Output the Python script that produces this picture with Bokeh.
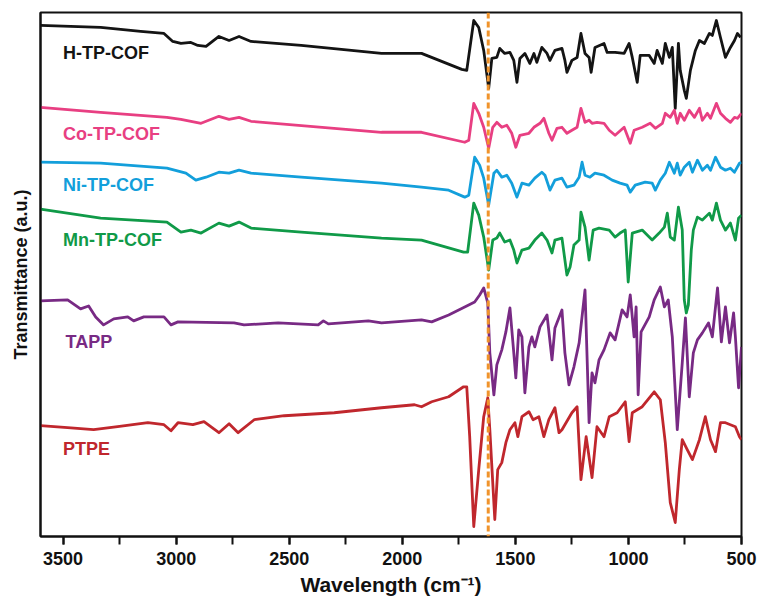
from bokeh.plotting import figure
from bokeh.models import Range1d, SingleIntervalTicker, FixedTicker, Span
from bokeh.core.properties import value
from bokeh.embed import file_html
from bokeh.resources import INLINE

# (wavenumber cm-1, transmittance a.u. with vertical offsets already included)
H_TP_COF = [(3600, 512), (3334, 510), (3157, 506), (3054, 504), (3015, 496), (2979, 494), (2935, 495),
            (2904, 492), (2868, 491), (2811, 501), (2766, 497), (2722, 501), (2669, 496), (2447, 492),
            (2092, 484), (1915, 484), (1737, 468), (1715, 467), (1684, 517), (1662, 510), (1640, 487),
            (1618, 449), (1604, 479), (1582, 480), (1569, 489), (1547, 484), (1524, 485), (1507, 477),
            (1493, 455), (1480, 479), (1458, 484), (1436, 474), (1418, 484), (1405, 475), (1383, 490),
            (1360, 484), (1347, 477), (1325, 487), (1294, 489), (1281, 477), (1272, 465), (1250, 477),
            (1227, 480), (1210, 504), (1192, 484), (1174, 480), (1165, 465), (1148, 490), (1108, 494),
            (1094, 485), (1059, 485), (1019, 484), (997, 494), (983, 480), (961, 455), (948, 482),
            (908, 482), (886, 474), (873, 487), (850, 474), (837, 494), (819, 480), (806, 490),
            (793, 429), (779, 494), (771, 467), (753, 447), (744, 439), (726, 467), (704, 487),
            (686, 497), (664, 494), (642, 504), (629, 502), (611, 517), (593, 500), (571, 480),
            (549, 490), (531, 497), (518, 504), (504, 500)]

CO_TP_COF = [(3600, 430), (3334, 425), (3041, 420), (2979, 418), (2890, 414), (2811, 421), (2766, 418),
             (2722, 420), (2669, 416), (2092, 405), (1915, 405), (1724, 395), (1706, 397), (1684, 434),
             (1662, 424), (1640, 410), (1618, 389), (1600, 410), (1582, 415), (1560, 410), (1538, 412),
             (1516, 404), (1498, 390), (1480, 402), (1440, 404), (1418, 410), (1391, 414), (1374, 419),
             (1352, 404), (1338, 397), (1316, 409), (1294, 410), (1272, 404), (1250, 407), (1227, 410),
             (1210, 429), (1192, 415), (1174, 417), (1161, 414), (1139, 415), (1108, 414), (1085, 407),
             (1059, 402), (1019, 410), (992, 394), (975, 407), (939, 410), (904, 414), (881, 409),
             (850, 414), (837, 424), (815, 420), (797, 427), (784, 414), (771, 424), (753, 417),
             (731, 427), (708, 420), (686, 429), (673, 417), (651, 424), (637, 419), (611, 434),
             (593, 424), (571, 419), (549, 415), (531, 420), (518, 419), (500, 424)]

NI_TP_COF = [(3600, 375), (3334, 374), (3041, 369), (2957, 364), (2913, 357), (2868, 360), (2811, 365),
             (2766, 364), (2722, 367), (2669, 364), (2447, 360), (2092, 354), (2003, 352), (1915, 350),
             (1795, 347), (1724, 340), (1706, 342), (1680, 380), (1658, 372), (1640, 359), (1618, 332),
             (1595, 364), (1582, 367), (1560, 360), (1538, 362), (1516, 354), (1493, 340), (1471, 354),
             (1440, 352), (1414, 359), (1383, 365), (1369, 362), (1347, 347), (1325, 357), (1294, 359),
             (1272, 350), (1241, 352), (1218, 360), (1205, 375), (1192, 362), (1170, 360), (1148, 364),
             (1108, 362), (1072, 357), (1037, 354), (1006, 352), (992, 345), (970, 352), (926, 355),
             (895, 354), (881, 347), (859, 357), (837, 364), (819, 375), (797, 364), (784, 374),
             (771, 362), (753, 370), (731, 375), (717, 365), (695, 377), (673, 367), (651, 372),
             (637, 367), (615, 380), (593, 370), (571, 367), (549, 369), (531, 365), (509, 374),
             (500, 375)]

MN_TP_COF = [(3600, 328), (3334, 319), (3041, 315), (2979, 305), (2935, 307), (2890, 304), (2811, 314),
             (2766, 311), (2722, 315), (2669, 309), (2447, 305), (2092, 299), (1915, 297), (1729, 285),
             (1711, 285), (1684, 334), (1662, 322), (1640, 300), (1618, 267), (1600, 297), (1582, 299),
             (1569, 304), (1547, 295), (1524, 297), (1507, 287), (1493, 274), (1471, 287), (1440, 289),
             (1414, 297), (1383, 304), (1360, 297), (1338, 284), (1325, 297), (1294, 299), (1272, 262),
             (1258, 270), (1241, 292), (1218, 297), (1210, 325), (1192, 310), (1174, 277), (1156, 307),
             (1130, 309), (1085, 307), (1059, 300), (1037, 304), (1014, 307), (1001, 255), (983, 304),
             (939, 307), (895, 297), (864, 304), (841, 310), (828, 324), (815, 300), (797, 297),
             (779, 330), (762, 307), (753, 237), (744, 224), (735, 232), (722, 287), (713, 307),
             (695, 320), (673, 317), (642, 324), (629, 317), (611, 334), (593, 317), (571, 307),
             (549, 314), (527, 297), (513, 319), (500, 322)]

TAPP = [(3600, 236), (3480, 237), (3423, 228), (3387, 231), (3356, 220), (3321, 212), (3276, 218),
        (3214, 220), (3188, 216), (3143, 220), (3054, 220), (3023, 212), (2992, 215), (2744, 214),
        (2700, 212), (2549, 214), (2372, 212), (2349, 216), (2327, 213), (2150, 216), (2092, 214),
        (1915, 217), (1870, 215), (1795, 222), (1724, 230), (1680, 235), (1658, 242), (1640, 249),
        (1622, 234), (1613, 184), (1595, 142), (1582, 172), (1560, 187), (1542, 205), (1524, 229),
        (1507, 184), (1498, 159), (1485, 207), (1471, 200), (1458, 144), (1440, 190), (1427, 200),
        (1414, 190), (1391, 210), (1360, 222), (1338, 177), (1325, 209), (1294, 227), (1281, 184),
        (1263, 152), (1241, 170), (1218, 194), (1192, 247), (1174, 114), (1161, 164), (1148, 154),
        (1130, 177), (1108, 187), (1081, 204), (1059, 197), (1028, 227), (1006, 220), (992, 242),
        (975, 200), (966, 230), (957, 142), (944, 205), (908, 220), (886, 237), (859, 250),
        (841, 230), (824, 237), (806, 200), (784, 107), (762, 174), (748, 219), (731, 140),
        (713, 184), (695, 197), (673, 204), (646, 214), (629, 200), (606, 249), (589, 195),
        (571, 230), (553, 194), (535, 224), (527, 200), (513, 149), (500, 190)]

PTPE = [(3600, 111), (3480, 109), (3365, 107), (3259, 110), (3125, 114), (3054, 112), (3023, 106),
        (2992, 114), (2926, 112), (2877, 115), (2811, 104), (2766, 113), (2726, 104), (2655, 117),
        (2522, 121), (2301, 124), (2092, 129), (1946, 132), (1915, 130), (1870, 135), (1795, 140),
        (1729, 150), (1715, 150), (1702, 100), (1684, 10), (1662, 67), (1640, 120), (1622, 139),
        (1613, 107), (1591, 17), (1578, 67), (1560, 74), (1542, 94), (1524, 107), (1502, 114),
        (1489, 100), (1471, 120), (1440, 125), (1422, 117), (1396, 120), (1374, 100), (1352, 117),
        (1325, 129), (1307, 104), (1294, 107), (1250, 124), (1227, 130), (1210, 57), (1187, 100),
        (1161, 59), (1139, 110), (1108, 100), (1085, 120), (1050, 124), (1014, 135), (997, 95),
        (983, 124), (939, 130), (886, 145), (859, 137), (837, 94), (815, 34), (793, 14),
        (775, 67), (762, 97), (740, 87), (717, 77), (686, 97), (660, 120), (637, 97),
        (615, 85), (593, 114), (571, 114), (549, 112), (527, 110), (509, 100), (500, 97)]

series_names = ["H-TP-COF", "Co-TP-COF", "Ni-TP-COF", "Mn-TP-COF", "TAPP", "PTPE"]
series_data = [H_TP_COF, CO_TP_COF, NI_TP_COF, MN_TP_COF, TAPP, PTPE]
series_colors = ["#141414", "#E83F82", "#139FDB", "#109A48", "#782A84", "#C0272D"]
label_x = [3500, 3500, 3500, 3500, 3489, 3500]
label_y = [484, 403, 352, 297, 195, 88]

marker_wn = 1620
x_ticks_major = 500

FONT = "Liberation Sans"

p = figure(width=758, height=598, output_backend="svg", toolbar_location=None,
           x_range=Range1d(3600, 500), y_range=Range1d(0, 525),
           min_border_left=40, min_border_right=17, min_border_top=12, min_border_bottom=61)
p.grid.visible = False
p.background_fill_color = "white"
p.border_fill_color = "white"
p.outline_line_color = "#111111"
p.outline_line_width = 2

for name, data, col, lx, ly in zip(series_names, series_data, series_colors, label_x, label_y):
    xs = [d[0] for d in data]
    ys = [d[1] for d in data]
    p.line(xs, ys, line_color=col, line_width=2.8, line_join="round")
    p.text(x=[lx], y=[ly], text=[name], text_color=col, text_font=value(FONT),
           text_font_size="18px", text_font_style="bold", text_baseline="middle", text_align="left")

p.add_layout(Span(location=marker_wn, dimension="height", line_color="#F0932B",
                  line_width=3, line_dash="6 3"))

xa = p.xaxis[0]
xa.ticker = SingleIntervalTicker(interval=x_ticks_major, num_minor_ticks=2)
xa.axis_label = "Wavelength (cm\u207b\u00b9)"
xa.axis_label_text_font = FONT
xa.axis_label_text_font_style = "bold"
xa.axis_label_text_font_size = "21px"
xa.axis_label_standoff = 5
xa.major_label_text_font = FONT
xa.major_label_text_font_style = "bold"
xa.major_label_text_font_size = "18px"
xa.major_label_standoff = 7
xa.major_tick_out = 8
xa.major_tick_in = 0
xa.minor_tick_out = 8
xa.minor_tick_in = 0
xa.major_tick_line_width = 2
xa.minor_tick_line_width = 2
xa.axis_line_width = 2
xa.axis_line_color = "#111111"
xa.major_tick_line_color = "#111111"
xa.minor_tick_line_color = "#111111"
xa.major_label_text_color = "#111111"
xa.axis_label_text_color = "#111111"

ya = p.yaxis[0]
ya.ticker = FixedTicker(ticks=[])
ya.axis_label = "Transmittance (a.u.)"
ya.axis_label_text_font = FONT
ya.axis_label_text_font_style = "bold"
ya.axis_label_text_font_size = "18px"
ya.axis_label_standoff = 10
ya.axis_label_text_color = "#111111"
ya.axis_line_width = 2
ya.axis_line_color = "#111111"
ya.major_tick_line_color = None
ya.minor_tick_line_color = None

open("out.html", "w").write(file_html(p, INLINE))
